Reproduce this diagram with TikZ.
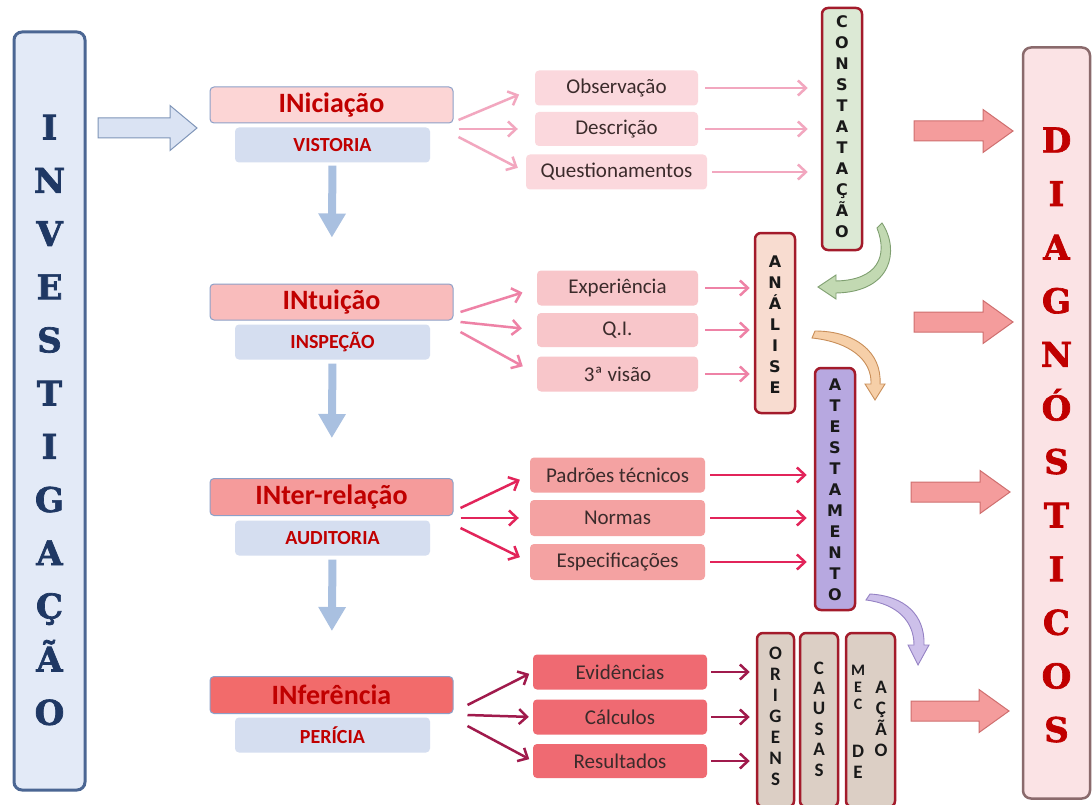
\documentclass[tikz,border=0pt]{standalone}
\usepackage{fontspec}
\newfontfamily\calfont{Carlito}
\newfontfamily\slabfont[BoldFeatures={FakeBold=2}]{DejaVu Serif}
\newfontfamily\versans{DejaVu Sans}
\usetikzlibrary{arrows.meta,calc}
\definecolor{invfill}{HTML}{E3EAF7}
\definecolor{invdraw}{HTML}{4B6693}
\definecolor{navy}{HTML}{1F3864}
\definecolor{dred}{HTML}{C00000}
\definecolor{boxred}{HTML}{A31B2B}
\definecolor{subfill}{HTML}{D5DEF0}
\definecolor{mainedge}{HTML}{8DA0C8}
\definecolor{fa}{HTML}{FCD5D5}
\definecolor{fb}{HTML}{F9BCBC}
\definecolor{fc}{HTML}{F59B9B}
\definecolor{fd}{HTML}{F26B6B}
\definecolor{ma}{HTML}{FBD8DD}
\definecolor{mb}{HTML}{F8C6CA}
\definecolor{mc}{HTML}{F4A2A2}
\definecolor{md}{HTML}{EF6A72}
\definecolor{aa}{HTML}{F2A7BF}
\definecolor{ab}{HTML}{EE82A6}
\definecolor{ac}{HTML}{E2245A}
\definecolor{ad}{HTML}{A01A4C}
\definecolor{txt}{HTML}{3B2B2B}
\definecolor{downblue}{HTML}{A9C0E0}
\definecolor{bigpink}{HTML}{F49C9C}
\definecolor{bigpinkedge}{HTML}{CF6F6F}
\definecolor{bigblue}{HTML}{DAE3F3}
\definecolor{bigblueedge}{HTML}{7F95B8}
\definecolor{diagfill}{HTML}{FBE3E5}
\definecolor{diagedge}{HTML}{8A6A6C}
\definecolor{greenfill}{HTML}{DCE9D5}
\definecolor{peach}{HTML}{F8DCD0}
\definecolor{lav}{HTML}{B7A8E0}
\definecolor{taupe}{HTML}{DCCFC5}
\definecolor{cgreen}{HTML}{C2D9B2}
\definecolor{cgreenedge}{HTML}{7F9F70}
\definecolor{corange}{HTML}{F6CFA8}
\definecolor{corangeedge}{HTML}{C98F5A}
\definecolor{cviolet}{HTML}{CDC0EA}
\definecolor{cvioletedge}{HTML}{9582C4}
\tikzset{
  mainbox/.style={draw=mainedge, line width=1pt, rounded corners=4pt, minimum width=243pt, minimum height=36pt, inner sep=0pt, text=dred, font=\calfont\bfseries\fontsize{28}{30}\selectfont},
  subbox/.style={fill=subfill, rounded corners=4pt, minimum width=195pt, minimum height=35pt, inner sep=0pt, text=dred, font=\calfont\bfseries\fontsize{20}{22}\selectfont},
  midbox/.style={rounded corners=4pt, minimum height=35pt, inner sep=0pt, text=txt, font=\calfont\fontsize{21}{23}\selectfont},
  vbox/.style={draw=boxred, line width=2.5pt, rounded corners=6pt, inner sep=0pt},
  vtext/.style={align=center, inner sep=0pt, text=black!90, font=\versans\bfseries\fontsize{16}{21}\selectfont},
  vtextc/.style={align=center, inner sep=0pt, text=black!90, font=\calfont\bfseries\fontsize{19}{21}\selectfont},
  fanarrow/.style={line width=2.5pt, -{Straight Barb[length=8pt,width=15pt]}},
  downarrow/.style={line width=8pt, draw=downblue, -{Triangle[length=24pt,width=26pt]}},
  bigarrowp/.style={fill=bigpink, draw=bigpinkedge, line width=1pt},
  curvedarrow/.style={line width=0.9pt},
}
\newcommand\myblockarrow[6]{% x1, x2, yc, bodyhalf, headhalf, headlen
  (#1,#3-#4) -- (#2-#6,#3-#4) -- (#2-#6,#3-#5) -- (#2,#3) -- (#2-#6,#3+#5) -- (#2-#6,#3+#4) -- (#1,#3+#4) -- cycle}
\begin{document}
\begin{tikzpicture}[x=1pt,y=-1pt]
\useasboundingbox (0,0) rectangle (1092,805);
\fill[white] (0,0) rectangle (1092,805);

% INVESTIGACAO
\node[draw=invdraw, fill=invfill, line width=3pt, rounded corners=8pt, minimum width=71pt, minimum height=758pt] (inv) at (49.5,411) {};
\node[align=center, inner sep=0pt, text=navy, font=\slabfont\bfseries\fontsize{34}{53.2}\selectfont] (invt) at (49.5,420) {I\\N\\V\\E\\S\\T\\I\\G\\A\\Ç\\Ã\\O};

% DIAGNOSTICOS
\node[draw=diagedge, fill=diagfill, line width=2.5pt, rounded corners=8pt, minimum width=67pt, minimum height=751pt] (diag) at (1056.5,423) {};
\node[align=center, inner sep=0pt, text=dred, font=\slabfont\bfseries\fontsize{34}{53.6}\selectfont] (diagt) at (1056.5,435) {D\\I\\A\\G\\N\\Ó\\S\\T\\I\\C\\O\\S};

% blue entry arrow
\draw[fill=bigblue, draw=bigblueedge, line width=1pt] \myblockarrow{98}{197}{128}{10}{22.5}{27};

% main boxes
\node[mainbox, fill=fa] (ini) at (331.5,105) {INiciação};
\node[subbox] (vis) at (332.5,145) {VISTORIA};
\node[mainbox, fill=fb] (intu) at (331.5,302) {INtuição};
\node[subbox] (insp) at (332.5,342) {INSPEÇÃO};
\node[mainbox, fill=fc, minimum height=37pt] (inter) at (331.5,497) {INter-relação};
\node[subbox] (aud) at (332.5,538) {AUDITORIA};
\node[mainbox, fill=fd, minimum height=37pt] (infe) at (331.5,695) {INferência};
\node[subbox] (per) at (332.5,735) {PERÍCIA};

\draw[downarrow, shorten <=3pt, shorten >=46pt] (vis.south) -- (intu.north);
\draw[downarrow, shorten <=4pt, shorten >=40pt] (insp.south) -- (inter.north);
\draw[downarrow, shorten <=4pt, shorten >=45pt] (aud.south) -- (infe.north);

% middle boxes
\node[midbox, fill=ma, minimum width=163pt] (obs) at (616.5,88) {Observação};
\node[midbox, fill=ma, minimum width=163pt, minimum height=34pt] (des) at (616.5,129) {Descrição};
\node[midbox, fill=ma, minimum width=181pt] (que) at (616.5,172) {Questionamentos};
\node[midbox, fill=mb, minimum width=161pt] (exp) at (617.5,288) {Experiência};
\node[midbox, fill=mb, minimum width=161pt, minimum height=34pt] (qi) at (617.5,330) {Q.I.};
\node[midbox, fill=mb, minimum width=161pt] (tre) at (617.5,374) {3ª visão};
\node[midbox, fill=mc, minimum width=175pt] (pad) at (617.5,475) {Padrões técnicos};
\node[midbox, fill=mc, minimum width=175pt, minimum height=36pt] (nor) at (617.5,518) {Normas};
\node[midbox, fill=mc, minimum width=175pt, minimum height=36pt] (esp) at (617.5,562) {Especificações};
\node[midbox, fill=md, minimum width=174pt] (evi) at (620,672) {Evidências};
\node[midbox, fill=md, minimum width=174pt] (cal) at (620,717) {Cálculos};
\node[midbox, fill=md, minimum width=174pt, minimum height=34pt] (res) at (620,761) {Resultados};

% vertical boxes
\node[vbox, fill=greenfill, minimum width=40pt, minimum height=242pt] (cons) at (842,129) {};
\node[vtext] (const) at (842,127) {C\\O\\N\\S\\T\\A\\T\\A\\Ç\\Ã\\O};
\node[vbox, fill=peach, minimum width=40pt, minimum height=180pt] (ana) at (775,323) {};
\node[vtext] (anat) at (775,325) {A\\N\\Á\\L\\I\\S\\E};
\node[vbox, fill=lav, minimum width=40pt, minimum height=242pt] (ate) at (835,489) {};
\node[vtext] (atet) at (835,490) {A\\T\\E\\S\\T\\A\\M\\E\\N\\T\\O};
\node[vbox, fill=taupe, minimum width=37pt, minimum height=174pt] (ori) at (775.5,720) {};
\node[vtextc] (orit) at (775.5,716) {O\\R\\I\\G\\E\\N\\S};
\node[vbox, fill=taupe, minimum width=38pt, minimum height=174pt] (cau) at (819,720) {};
\node[vtextc, font=\calfont\bfseries\fontsize{19}{20.4}\selectfont] (caut) at (819,719) {C\\A\\U\\S\\A\\S};
\node[vbox, fill=taupe, minimum width=49pt, minimum height=174pt] (mec) at (870.5,720) {};
\node[vtextc, font=\calfont\bfseries\fontsize{16}{17}\selectfont] (mect) at (858,687) {M\\E\\C};
\node[vtextc] (det) at (858,762) {D\\E};
\node[vtextc] (acaot) at (881,719) {A\\Ç\\Ã\\O};

% fan arrows group 1
\coordinate (s1a) at ($(ini.east)+(5,15)$);
\coordinate (s1b) at ($(ini.east)+(5,24)$);
\coordinate (s1c) at ($(ini.east)+(5,32)$);
\draw[fanarrow, draw=aa, shorten >=17pt] (s1a) -- (obs.west);
\draw[fanarrow, draw=aa, shorten >=17pt] (s1b) -- (des.west);
\draw[fanarrow, draw=aa, shorten >=9pt] (s1c) -- (que.west);
% group 2
\coordinate (s2a) at ($(intu.east)+(7,10)$);
\coordinate (s2b) at ($(intu.east)+(7,20)$);
\coordinate (s2c) at ($(intu.east)+(7,30)$);
\draw[fanarrow, draw=ab, shorten >=15pt] (s2a) -- (exp.west);
\draw[fanarrow, draw=ab, shorten >=15pt] (s2b) -- (qi.west);
\draw[fanarrow, draw=ab, shorten >=16pt] (s2c) -- (tre.west);
% group 3
\coordinate (s3a) at ($(inter.east)+(7,11)$);
\coordinate (s3b) at ($(inter.east)+(7,21)$);
\coordinate (s3c) at ($(inter.east)+(7,31)$);
\draw[fanarrow, draw=ac, shorten >=11pt] (s3a) -- (pad.west);
\draw[fanarrow, draw=ac, shorten >=11pt] (s3b) -- (nor.west);
\draw[fanarrow, draw=ac, shorten >=11pt] (s3c) -- (esp.west);
% group 4
\coordinate (s4a) at ($(infe.east)+(14,10)$);
\coordinate (s4b) at ($(infe.east)+(14,20)$);
\coordinate (s4c) at ($(infe.east)+(14,31)$);
\draw[fanarrow, draw=ad, shorten >=4pt] (s4a) -- (evi.west);
\draw[fanarrow, draw=ad, shorten >=4pt] (s4b) -- (cal.west);
\draw[fanarrow, draw=ad, shorten >=4pt] (s4c) -- (res.west);

% arrows to vertical boxes
\draw[fanarrow, draw=aa, shorten <=7pt, shorten >=13pt] (obs.east) -- (obs.east -| cons.west);
\draw[fanarrow, draw=aa, shorten <=7pt, shorten >=13pt] (des.east) -- (des.east -| cons.west);
\draw[fanarrow, draw=aa, shorten <=5pt, shorten >=13pt] (que.east) -- (que.east -| cons.west);
\draw[fanarrow, draw=ab, shorten <=7pt, shorten >=4pt] (exp.east) -- (exp.east -| ana.west);
\draw[fanarrow, draw=ab, shorten <=7pt, shorten >=4pt] (qi.east) -- (qi.east -| ana.west);
\draw[fanarrow, draw=ab, shorten <=7pt, shorten >=4pt] (tre.east) -- (tre.east -| ana.west);
\draw[fanarrow, draw=ac, shorten <=5pt, shorten >=7pt] (pad.east) -- (pad.east -| ate.west);
\draw[fanarrow, draw=ac, shorten <=5pt, shorten >=7pt] (nor.east) -- (nor.east -| ate.west);
\draw[fanarrow, draw=ac, shorten <=5pt, shorten >=7pt] (esp.east) -- (esp.east -| ate.west);
\draw[fanarrow, draw=ad, shorten <=4pt, shorten >=6pt] (evi.east) -- (evi.east -| ori.west);
\draw[fanarrow, draw=ad, shorten <=4pt, shorten >=6pt] (cal.east) -- (cal.east -| ori.west);
\draw[fanarrow, draw=ad, shorten <=4pt, shorten >=6pt] (res.east) -- (res.east -| ori.west);

% big arrows to DIAGNOSTICOS
\draw[bigarrowp] \myblockarrow{914}{1013}{131}{10}{21.5}{30};
\draw[bigarrowp] \myblockarrow{914}{1013}{322}{10}{21.5}{30};
\draw[bigarrowp] \myblockarrow{911}{1010}{492}{10}{21.5}{30};
\draw[bigarrowp] \myblockarrow{911}{1009}{711}{10}{21.5}{30};

% curved block arrows
\draw[curvedarrow, fill=cgreen, draw=cgreenedge]
  (877,228) -- (882,223) .. controls (900,250) and (892,292) .. (836,293) -- (836,299) -- (818,287) -- (836,275) -- (836,281) .. controls (878,280) and (888,256) .. (877,228) -- cycle;
\draw[curvedarrow, fill=corange, draw=corangeedge]
  (812,338) -- (815,331) .. controls (855,331) and (882,352) .. (880,384) -- (885,384) -- (875,400) -- (865,384) -- (871,384) .. controls (872,360) and (850,342) .. (812,338) -- cycle;
\draw[curvedarrow, fill=cviolet, draw=cvioletedge]
  (866,600) -- (870,594) .. controls (905,596) and (925,615) .. (924,645) -- (929,645) -- (918,665) -- (908,645) -- (914,645) .. controls (914,622) and (898,604) .. (866,600) -- cycle;
\end{tikzpicture}
\end{document}
